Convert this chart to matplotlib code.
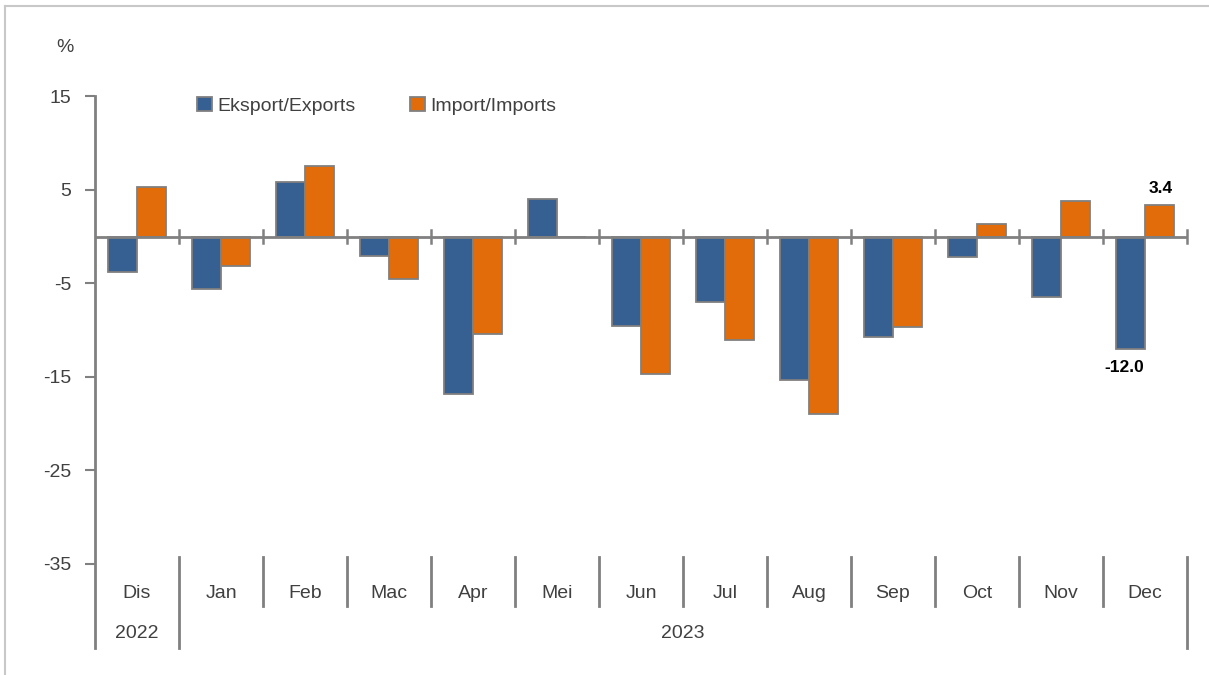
import numpy as np
import matplotlib.pyplot as plt
from matplotlib.lines import Line2D

# Data
months = ['Dis', 'Jan', 'Feb', 'Mac', 'Apr', 'Mei', 'Jun', 'Jul', 'Aug', 'Sep', 'Oct', 'Nov', 'Dec']
years = ['2022', '2023']
year_spans = [(0, 1), (1, 13)]
exports = [-3.8, -5.6, 5.8, -2.1, -16.8, 4.0, -9.6, -7.0, -15.3, -10.7, -2.2, -6.5, -12.0]
imports = [5.3, -3.1, 7.6, -4.5, -10.4, 0.0, -14.7, -11.1, -19.0, -9.7, 1.3, 3.8, 3.4]

plt.rcParams['font.family'] = ['Liberation Sans', 'DejaVu Sans']
plt.rcParams['axes.unicode_minus'] = False
blue = '#366092'
orange = '#e36c0a'
grey = '#808080'
txt = '#404040'
fs = 14

fig = plt.figure(figsize=(12.09, 6.75), dpi=100)
ax = fig.add_axes([95 / 1209, 1 - 564 / 675, 1092 / 1209, 467.7 / 675])

x = np.arange(len(months))
w = 0.35
b1 = ax.bar(x - w / 2, exports, w, color=blue, edgecolor=grey, linewidth=1.3, label='Eksport/Exports', zorder=2)
b2 = ax.bar(x + w / 2, imports, w, color=orange, edgecolor=grey, linewidth=1.3, label='Import/Imports', zorder=2)

ax.set_xlim(-0.5, len(months) - 0.5)
ax.set_ylim(-35, 15)
ax.set_yticks([15, 5, -5, -15, -25, -35])
ax.tick_params(axis='y', colors=grey, length=7, width=1.5, labelsize=fs, labelcolor=txt, pad=10)
ax.set_xticks([])
for s in ['top', 'right', 'bottom', 'left']:
    ax.spines[s].set_visible(False)

# zero line with crossing ticks at category boundaries
ax.axhline(0, color=grey, lw=2, zorder=3)
for b in np.arange(0.5, len(months), 1.0):
    ax.plot([b, b], [-0.7, 0.7], color=grey, lw=1.8, zorder=3, clip_on=False)

# y axis line continuing below into the category label area
ybot = (564 - 648) / 467.7
ax.plot([0, 0], [ybot, 1], transform=ax.transAxes, color=grey, lw=2, clip_on=False)

# multi-level category labels
trans = ax.get_xaxis_transform()
ytop = (564 - 557) / 467.7
ymid = (564 - 606) / 467.7
year_edges = [s for s, e in year_spans] + [len(months)]
for b in range(1, len(months) + 1):
    yb = ybot if b in year_edges else ymid
    ax.plot([b - 0.5, b - 0.5], [ytop, yb], transform=trans, color=grey, lw=2, clip_on=False)
for i, m in enumerate(months):
    ax.text(i, (564 - 593) / 467.7, m, transform=trans, ha='center', va='center', fontsize=fs, color=txt)
for yr, (s, e) in zip(years, year_spans):
    ax.text((s + e - 1) / 2, (564 - 634) / 467.7, yr, transform=trans, ha='center', va='center',
            fontsize=fs, color=txt)

# data labels on the last month
ax.annotate(f'{imports[-1]:.1f}', (x[-1] + w / 2, imports[-1]), xytext=(1, 6), textcoords='offset points',
            ha='center', va='bottom', fontsize=12.5, fontweight='bold')
ax.annotate(f'{exports[-1]:.1f}', (x[-1] - w / 2, exports[-1]), xytext=(-4, -8), textcoords='offset points',
            ha='center', va='top', fontsize=12.5, fontweight='bold')

ax.legend(handles=[b1, b2], loc='center left', bbox_to_anchor=(197 / 1209, 1 - 106 / 675),
          bbox_transform=fig.transFigure, frameon=False, ncol=2, fontsize=fs,
          handlelength=0.75, handleheight=0.75, handletextpad=0.3, columnspacing=2.8,
          labelcolor=txt, borderaxespad=0, borderpad=0)

fig.text(65 / 1209, 1 - 47 / 675, '%', ha='center', va='center', fontsize=fs, color=txt)

# outer frame (top and left)
fig.add_artist(Line2D([5 / 1209, 1], [1 - 6 / 675, 1 - 6 / 675], color='#c8c8c8', lw=1.5))
fig.add_artist(Line2D([5 / 1209, 5 / 1209], [0, 1 - 6 / 675], color='#c8c8c8', lw=1.5))

fig.savefig('out.png', dpi=100)
